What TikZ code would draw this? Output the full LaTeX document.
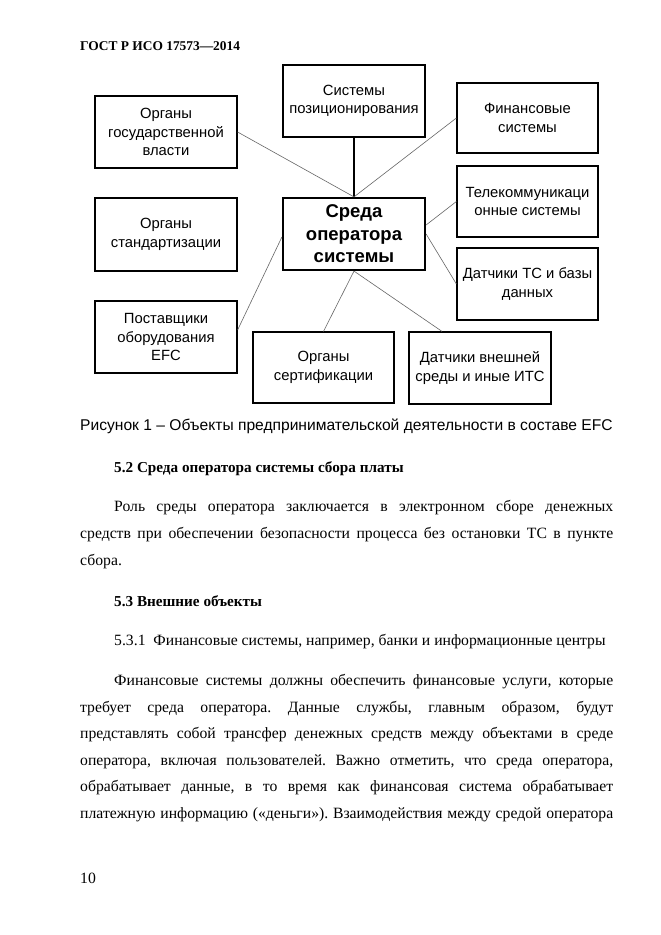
\documentclass[tikz,border=0pt]{standalone}
\usepackage{fontspec}
\setmainfont{Liberation Serif}
\newfontfamily\boxfont{Liberation Sans}
\usetikzlibrary{calc}
\frenchspacing
\tikzset{
  ebox/.style={draw=black, line width=1.2pt, inner sep=0pt, align=center,
    minimum width=142pt, minimum height=72pt,
    font=\boxfont\fontsize{14.8}{18.5}\selectfont},
  cbox/.style={ebox, line width=2.2pt, font=\boxfont\bfseries\fontsize{18.5}{22.5}\selectfont},
  conn/.style={draw=black!60, line width=0.6pt},
  thickconn/.style={draw=black, line width=2pt},
  body/.style={anchor=base west, inner sep=0pt, font=\frenchspacing\fontsize{15.7}{18}\selectfont},
  bodyb/.style={body, font=\bfseries\fontsize{15.2}{18}\selectfont},
}
\newcommand{\jline}[1]{\makebox[533pt][s]{#1}}
\newcommand{\jlinei}[1]{\makebox[499pt][s]{#1}}
\begin{document}
\begin{tikzpicture}[x=1pt,y=-1pt]
\useasboundingbox[fill=white] (0,0) rectangle (661,935);
% header
\node[anchor=base west, inner sep=0pt, font=\bfseries\fontsize{13.4}{15}\selectfont] (hdr) at (80,50) {ГОСТ Р ИСО 17573—2014};
% boxes
\node[ebox] (gos) at (166,132) {Органы\\государственной\\власти};
\node[ebox] (pos) at (354,101) {Системы\\позиционирования};
\node[ebox, minimum width=141pt, minimum height=70pt] (fin) at (527.5,118) {Финансовые\\системы};
\node[ebox, minimum width=141pt, minimum height=71pt] (tel) at (527.5,201.5) {Телекоммуникаци\\онные системы};
\node[cbox] (sreda) at (354,234) {Среда\\оператора\\системы};
\node[ebox, minimum height=73pt] (std) at (166,234.5) {Органы\\стандартизации};
\node[ebox] (post) at (166,337) {Поставщики\\оборудования\\EFC};
\node[ebox, minimum width=141pt, minimum height=71pt] (sert) at (323.5,367.5) {Органы\\сертификации};
\node[ebox] (dext) at (480,368) {Датчики внешней\\среды и иные ИТС};
\node[ebox, minimum width=141pt] (dts) at (527.5,284) {Датчики ТС и базы\\данных};
% connectors
\draw[thickconn] (pos.south) -- (sreda.north);
\draw[conn] (gos.east) -- (sreda.north);
\draw[conn] (fin.west) -- (sreda.north);
\draw[conn] (tel.west) -- ([yshift=9pt]sreda.east);
\draw[conn] (dts.west) -- (sreda.east);
\draw[conn] ([yshift=7pt]post.east) -- ([yshift=-3pt]sreda.west);
\draw[conn] (sert.north) -- (sreda.south);
\draw[conn] ([xshift=-38pt]dext.north) -- (sreda.south);
% caption
\node[anchor=base west, inner sep=0pt, font=\boxfont\fontsize{15.6}{18}\selectfont] (cap) at (80,430) {Рисунок 1 – Объекты предпринимательской деятельности в составе EFC};
% text
\node[bodyb] (h52) at (114,472) {5.2 Среда оператора системы сбора платы};
\node[body] (p1) at (114,511) {\jlinei{Роль среды оператора заключается в электронном сборе денежных}};
\node[body] (p2) at (80,538) {\jline{средств при обеспечении безопасности процесса без остановки ТС в пункте}};
\node[body] (p3) at (80,565) {сбора.};
\node[bodyb] (h53) at (114,606) {5.3 Внешние объекты};
\node[body] (h531) at (114,645) {5.3.1\ \ Финансовые системы, например, банки и информационные центры};
\node[body] (q1) at (114,685) {\jlinei{Финансовые системы должны обеспечить финансовые услуги, которые}};
\node[body] (q2) at (80,712) {\jline{требует среда оператора. Данные службы, главным образом, будут}};
\node[body] (q3) at (80,738) {\jline{представлять собой трансфер денежных средств между объектами в среде}};
\node[body] (q4) at (80,765) {\jline{оператора, включая пользователей. Важно отметить, что среда оператора,}};
\node[body] (q5) at (80,791) {\jline{обрабатывает данные, в то время как финансовая система обрабатывает}};
\node[body] (q6) at (80,818) {\jline{платежную информацию («деньги»). Взаимодействия между средой оператора}};
\node[body] (pg) at (80,883) {10};
\end{tikzpicture}
\end{document}
